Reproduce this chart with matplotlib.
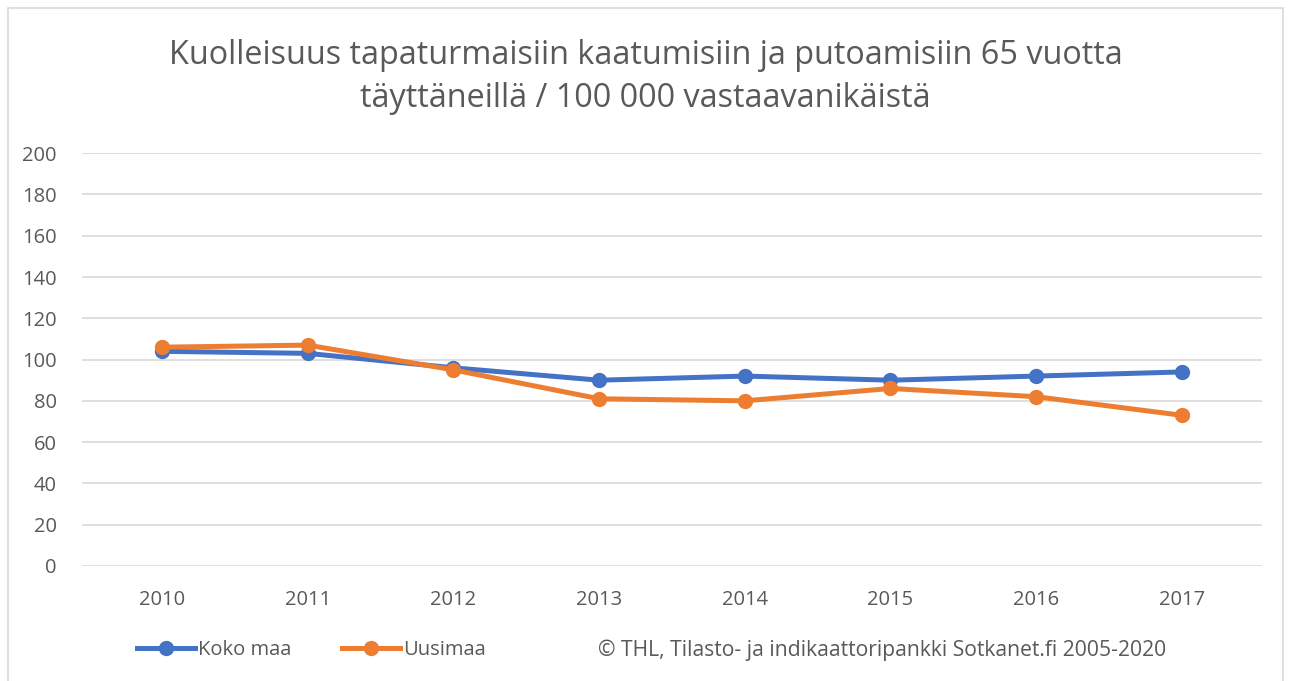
import matplotlib.pyplot as plt
from matplotlib.patches import Rectangle

plt.rcParams['font.family'] = ['Open Sans', 'DejaVu Sans']

years = ['2010', '2011', '2012', '2013', '2014', '2015', '2016', '2017']
koko_maa = [104, 103, 96, 90, 92, 90, 92, 94]
uusimaa = [106, 107, 95, 81, 80, 86, 82, 73]

title = 'Kuolleisuus tapaturmaisiin kaatumisiin ja putoamisiin 65 vuotta\ntäyttäneillä / 100 000 vastaavanikäistä'
source = '© THL, Tilasto- ja indikaattoripankki Sotkanet.fi 2005-2020'

BLUE = '#4472C4'
ORANGE = '#ED7D31'
GREY = '#595959'

fig = plt.figure(figsize=(12.91, 6.81), dpi=100)
fig.patches.append(Rectangle((0.006, -0.01), 0.988, 0.998, transform=fig.transFigure,
                             fill=False, edgecolor='#d9d9d9', linewidth=1.2))

ax = fig.add_axes([0.0635, 0.169, 0.914, 0.606])
x = list(range(len(years)))
ax.plot(x, koko_maa, color=BLUE, lw=3.6, marker='o', ms=10, label='Koko maa', zorder=3)
ax.plot(x, uusimaa, color=ORANGE, lw=3.6, marker='o', ms=10, label='Uusimaa', zorder=4)

ax.set_xlim(-0.55, 7.55)
ax.set_ylim(0, 200)
ax.set_yticks(range(0, 201, 20))
ax.set_xticks(x)
ax.set_xticklabels(years)
ax.grid(axis='y', color='#d9d9d9', lw=1.2)
ax.set_axisbelow(True)
for s in ax.spines.values():
    s.set_visible(False)
ax.tick_params(length=0, labelsize=14.5, labelcolor=GREY)
ax.tick_params(axis='x', pad=17)
ax.tick_params(axis='y', pad=18)

fig.text(0.5, 0.887, title, ha='center', va='center', fontsize=23.3, color=GREY,
         linespacing=1.38)

leg = fig.legend(loc='center left', bbox_to_anchor=(0.092, 0.045), ncol=2, frameon=False,
                 fontsize=14.5, handlelength=2.9, columnspacing=2.5, handletextpad=0.15)
for t in leg.get_texts():
    t.set_color(GREY)
fig.text(0.463, 0.045, source, ha='left', va='center', fontsize=15.2, color=GREY)

fig.savefig('out.png', dpi=100)
